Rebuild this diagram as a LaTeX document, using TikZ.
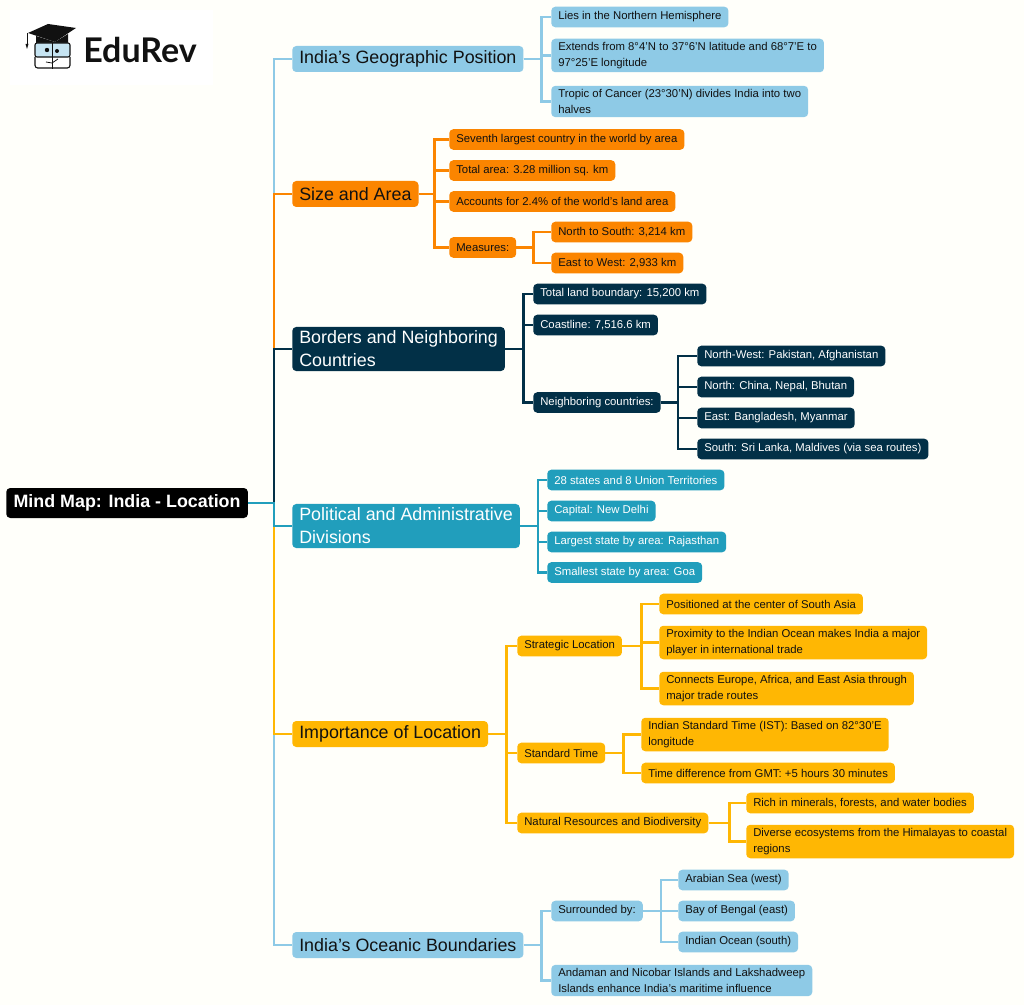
\documentclass[tikz,border=0pt]{standalone}
\usepackage{fontspec}
\setmainfont{Liberation Sans}
\newfontfamily\logofont{Lato}
\definecolor{mapblue}{HTML}{8ECAE6}
\definecolor{maporange}{HTML}{FB8500}
\definecolor{mapdark}{HTML}{023047}
\definecolor{mapteal}{HTML}{219EBC}
\definecolor{mapyellow}{HTML}{FFB703}
\definecolor{mapink}{HTML}{111111}
\tikzset{
  topic/.style={anchor=west,rounded corners=3pt,inner xsep=5.25pt,inner ysep=3pt,align=left,
    minimum height=19.5pt,font=\fontsize{13.4}{17.2}\selectfont},
  leaf/.style={anchor=west,rounded corners=3pt,inner xsep=5.25pt,inner ysep=2.6pt,align=left,
    minimum height=15.4pt,font=\fontsize{8.5}{12}\selectfont},
  blueleaf/.style={leaf,fill=mapblue,text=mapink},
  orangeleaf/.style={leaf,fill=maporange,text=mapink},
  darkleaf/.style={leaf,fill=mapdark,text=white},
  tealleaf/.style={leaf,fill=mapteal,text=white},
  yellowleaf/.style={leaf,fill=mapyellow,text=mapink},
  link/.style={line width=2pt}
}
\begin{document}
\begin{tikzpicture}[x=0.75pt,y=-0.75pt]
   \useasboundingbox[fill=white!98!yellow] (0,0) rectangle (1024,1005);
   % logo
   \fill[white] (10,10) rectangle (213,85);
   \fill[mapink] (48,24) -- (76,28) -- (55,42) -- (28,33) -- cycle;
   \fill[mapink] (36,36) -- (36,43) -- (68,43) -- (68,34) -- (55,42) -- cycle;
   \draw[mapink,line width=0.6pt] (27,33) -- (27,44);
   \fill[mapink] (25.5,44) -- (28.5,44) -- (27,49) -- cycle;
   \filldraw[fill=mapblue!50,draw=mapink,line width=0.8pt,rounded corners=1.5pt] (35,43) rectangle (70,57);
   \draw[mapink,line width=0.8pt,rounded corners=2pt] (35,57) -- (35,68) -- (70,68) -- (70,57);
   \draw[mapink,line width=0.8pt] (52.5,43) -- (52.5,69);
   \fill[mapink] (47,50) circle(2.2) (57,51) circle(2);
   \draw[mapink,line width=0.6pt] (46,62) -- (52,63) -- (58,59);
   \node[anchor=west,inner sep=0pt,text=mapink] (logo) at (83,50.5)
     {\logofont\bfseries\fontsize{25.5}{28}\selectfont EduRev};
   % root and main topics
   \node[anchor=west,rounded corners=3pt,fill=black,text=white,inner xsep=5.5pt,minimum height=22.5pt,
     font=\fontsize{13.4}{16}\selectfont\bfseries] (root) at (6,503) {Mind Map: India - Location};
   \node[topic,fill=mapblue,text=mapink] (geo) at (292,59) {India's Geographic Position};
   \node[topic,fill=maporange,text=mapink] (size) at (292,194) {Size and Area};
   \node[topic,fill=mapdark,text=white] (borders) at (292,349) {Borders and Neighboring\\Countries};
   \node[topic,fill=mapteal,text=white] (political) at (292,526) {Political and Administrative\\Divisions};
   \node[topic,fill=mapyellow,text=mapink] (importance) at (292,734) {Importance of Location};
   \node[topic,fill=mapblue,text=mapink] (ocean) at (292,945) {India's Oceanic Boundaries};
   % geographic position
   \node[blueleaf] (geoa) at (551,17) {Lies in the Northern Hemisphere};
   \node[blueleaf] (geob) at (551,55.5) {Extends from 8°4'N to 37°6'N latitude and 68°7'E to\\97°25'E longitude};
   \node[blueleaf] (geoc) at (551,101.5) {Tropic of Cancer (23°30'N) divides India into two\\halves};
   % size and area
   \node[orangeleaf] (sizea) at (449,139.5) {Seventh largest country in the world by area};
   \node[orangeleaf] (sizeb) at (449,170.5) {Total area: 3.28 million sq. km};
   \node[orangeleaf] (sizec) at (449,201.5) {Accounts for 2.4\% of the world's land area};
   \node[orangeleaf] (sized) at (449,247.5) {Measures:};
   \node[orangeleaf] (sizee) at (551,232) {North to South: 3,214 km};
   \node[orangeleaf] (sizef) at (551,263) {East to West: 2,933 km};
   % borders
   \node[darkleaf] (bordera) at (533,294) {Total land boundary: 15,200 km};
   \node[darkleaf] (borderb) at (533,325) {Coastline: 7,516.6 km};
   \node[darkleaf] (borderc) at (533,402.5) {Neighboring countries:};
   \node[darkleaf] (borderd) at (697,356) {North-West: Pakistan, Afghanistan};
   \node[darkleaf] (bordere) at (697,387) {North: China, Nepal, Bhutan};
   \node[darkleaf] (borderf) at (697,418) {East: Bangladesh, Myanmar};
   \node[darkleaf] (borderg) at (697,449) {South: Sri Lanka, Maldives (via sea routes)};
   % political divisions
   \node[tealleaf] (polia) at (547,480) {28 states and 8 Union Territories};
   \node[tealleaf] (polib) at (547,511) {Capital: New Delhi};
   \node[tealleaf] (polic) at (547,542) {Largest state by area: Rajasthan};
   \node[tealleaf] (polid) at (547,572.5) {Smallest state by area: Goa};
   % importance
   \node[yellowleaf] (impa) at (517,646) {Strategic Location};
   \node[yellowleaf] (impb) at (517,753) {Standard Time};
   \node[yellowleaf] (impc) at (517,823) {Natural Resources and Biodiversity};
   \node[yellowleaf] (impd) at (659,604) {Positioned at the center of South Asia};
   \node[yellowleaf] (impe) at (659,642.5) {Proximity to the Indian Ocean makes India a major\\player in international trade};
   \node[yellowleaf] (impf) at (659,688.5) {Connects Europe, Africa, and East Asia through\\major trade routes};
   \node[yellowleaf] (impg) at (641,734.5) {Indian Standard Time (IST): Based on 82°30'E\\longitude};
   \node[yellowleaf] (imph) at (641,773) {Time difference from GMT: +5 hours 30 minutes};
   \node[yellowleaf] (impi) at (746,803) {Rich in minerals, forests, and water bodies};
   \node[yellowleaf] (impj) at (746,841.5) {Diverse ecosystems from the Himalayas to coastal\\regions};
   % oceanic boundaries
   \node[blueleaf] (oceana) at (551,911) {Surrounded by:};
   \node[blueleaf] (oceanb) at (551,980.5) {Andaman and Nicobar Islands and Lakshadweep\\Islands enhance India's maritime influence};
   \node[blueleaf] (oceanc) at (678,880) {Arabian Sea (west)};
   \node[blueleaf] (oceand) at (678,911) {Bay of Bengal (east)};
   \node[blueleaf] (oceane) at (678,942) {Indian Ocean (south)};
   % connectors
   \foreach \t/\c in {geo/mapblue,size/maporange,borders/mapdark,ocean/mapblue,importance/mapyellow,political/mapteal} {
    \draw[link,line width=2.2pt,\c] (root.east) -- (274,503) |- (\t.west);
   }
   \foreach \c in {geoa,geob,geoc} { \draw[link,mapblue] (geo.east) -- ++(18,0) |- (\c.west); }
   \foreach \c in {sizea,sizeb,sizec,sized} { \draw[link,maporange] (size.east) -- ++(16,0) |- (\c.west); }
   \foreach \c in {sizee,sizef} { \draw[link,maporange] (sized.east) -- ++(17,0) |- (\c.west); }
   \foreach \c in {bordera,borderb,borderc} { \draw[link,mapdark] (borders.east) -- ++(18,0) |- (\c.west); }
   \foreach \c in {borderd,bordere,borderf,borderg} { \draw[link,mapdark] (borderc.east) -- ++(17,0) |- (\c.west); }
   \foreach \c in {polia,polib,polic,polid} { \draw[link,mapteal] (political.east) -- ++(18,0) |- (\c.west); }
   \foreach \c in {impa,impb,impc} { \draw[link,mapyellow] (importance.east) -- ++(18,0) |- (\c.west); }
   \foreach \c in {impd,impe,impf} { \draw[link,mapyellow] (impa.east) -- ++(19,0) |- (\c.west); }
   \foreach \c in {impg,imph} { \draw[link,mapyellow] (impb.east) -- ++(18,0) |- (\c.west); }
   \foreach \c in {impi,impj} { \draw[link,mapyellow] (impc.east) -- ++(21,0) |- (\c.west); }
   \foreach \c in {oceana,oceanb} { \draw[link,mapblue] (ocean.east) -- ++(18,0) |- (\c.west); }
   \foreach \c in {oceanc,oceand,oceane} { \draw[link,mapblue] (oceana.east) -- ++(18,0) |- (\c.west); }
\end{tikzpicture}
\end{document}
